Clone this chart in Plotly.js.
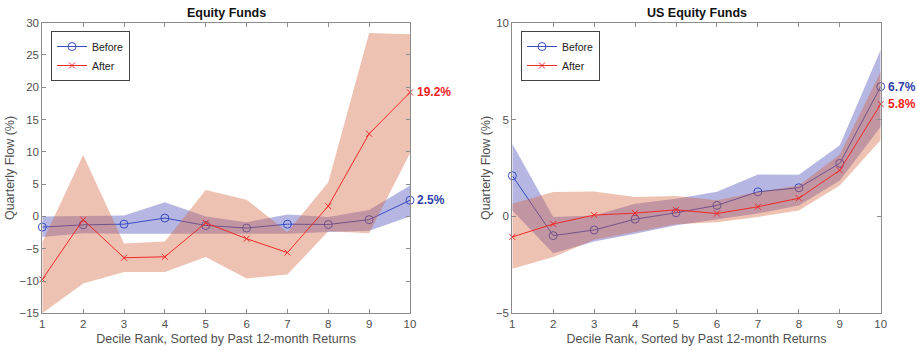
<!DOCTYPE html>
<html>
<head>
<meta charset="utf-8">
<script src="https://cdn.plot.ly/plotly-3.0.1.min.js"></script>
<style>html,body{margin:0;padding:0;background:#fff}#chart{width:918px;height:355px}</style>
</head>
<body>
<div id="chart"></div>
<script>
// ---- data ----
const deciles = [1, 2, 3, 4, 5, 6, 7, 8, 9, 10];

// Equity Funds
const eqBefore      = [-1.65, -1.3, -1.2, -0.25, -1.4, -1.8, -1.2, -1.25, -0.5, 2.5];
const eqBeforeUpper = [0, 0.1, 0.15, 2.2, 0, -0.9, 0.3, -0.1, 1.0, 4.8];
const eqBeforeLower = [-3.2, -2.6, -2.7, -2.7, -2.8, -2.7, -2.7, -2.4, -2.2, 0];
const eqAfter       = [-9.75, -0.5, -6.4, -6.25, -1.0, -3.45, -5.6, 1.6, 12.8, 19.2];
const eqAfterUpper  = [-4, 9.5, -4.2, -3.9, 4.1, 2.6, -2.4, 5.3, 28.4, 28.2];
const eqAfterLower  = [-15, -10.4, -8.6, -8.6, -6.3, -9.6, -9.0, -2.3, -2.6, 9.8];

// US Equity Funds
const usBefore      = [2.1, -0.99, -0.7, -0.14, 0.19, 0.57, 1.27, 1.48, 2.74, 6.7];
const usBeforeUpper = [3.75, -0.03, 0.05, 0.65, 0.91, 1.28, 2.17, 2.15, 3.67, 8.6];
const usBeforeLower = [0.3, -1.9, -1.3, -0.9, -0.45, -0.15, 0.15, 0.57, 1.86, 4.63];
const usAfter       = [-1.06, -0.39, 0.07, 0.17, 0.34, 0.15, 0.5, 0.94, 2.38, 5.8];
const usAfterUpper  = [0.65, 1.26, 1.29, 1.0, 1.05, 0.83, 1.26, 1.6, 3.2, 7.47];
const usAfterLower  = [-2.7, -2.1, -1.2, -0.8, -0.4, -0.3, -0.03, 0.31, 1.6, 3.94];

const seriesNames = ['Before', 'After'];
const panelTitles = ['Equity Funds', 'US Equity Funds'];
const xTitle = 'Decile Rank, Sorted by Past 12-month Returns';
const yTitle = 'Quarterly Flow (%)';

// ---- styles ----
const W = 918, H = 355;
const blueLine = '#3a4cc0', redLine = '#f02a2a';
const blueFill = 'rgba(40,40,170,0.34)', redFill = 'rgba(210,95,55,0.38)';
const blueText = '#2f3fa8', redText = '#ee1c1c';
const axisCol = '#8c8c8c', tickCol = '#505050';
const FONT = 'Arial, "Liberation Sans", sans-serif';

function band(lower, upper, fill, xa, ya) {
  return [
    {x: deciles, y: lower, xaxis: xa, yaxis: ya, mode: 'lines', line: {width: 0, color: 'rgba(0,0,0,0)'},
     showlegend: false, hoverinfo: 'skip'},
    {x: deciles, y: upper, xaxis: xa, yaxis: ya, mode: 'lines', line: {width: 0, color: 'rgba(0,0,0,0)'},
     fill: 'tonexty', fillcolor: fill, showlegend: false, hoverinfo: 'skip'}
  ];
}
function line(y, name, color, symbol, xa, ya, leg, msize) {
  return {x: deciles, y: y, xaxis: xa, yaxis: ya, name: name, legend: leg,
    mode: 'lines+markers', cliponaxis: false,
    line: {color: color, width: 1},
    marker: {symbol: symbol, size: msize, color: color, line: {color: color, width: 1}}};
}

const traces = [
  ...band(eqBeforeLower, eqBeforeUpper, blueFill, 'x', 'y'),
  line(eqBefore, seriesNames[0], blueLine, 'circle-open', 'x', 'y', 'legend', 8),
  ...band(eqAfterLower, eqAfterUpper, redFill, 'x', 'y'),
  line(eqAfter, seriesNames[1], redLine, 'x-thin-open', 'x', 'y', 'legend', 6),
  ...band(usBeforeLower, usBeforeUpper, blueFill, 'x2', 'y2'),
  line(usBefore, seriesNames[0], blueLine, 'circle-open', 'x2', 'y2', 'legend2', 8),
  ...band(usAfterLower, usAfterUpper, redFill, 'x2', 'y2'),
  line(usAfter, seriesNames[1], redLine, 'x-thin-open', 'x2', 'y2', 'legend2', 6)
];

function xax(l, r) {
  return {domain: [l / W, r / W], range: [1, 10], tickvals: deciles, ticks: 'inside', ticklen: 4,
    tickcolor: axisCol, showline: true, linecolor: axisCol, linewidth: 1, mirror: 'ticks',
    showgrid: false, zeroline: false, tickfont: {family: FONT, size: 11.5, color: tickCol},
    title: {text: xTitle, font: {family: FONT, size: 12.5, color: tickCol}, standoff: 5}};
}
function yax(range, dtick) {
  return {domain: [(H - 313.3) / H, (H - 22.7) / H], range: range, dtick: dtick, ticks: 'inside', ticklen: 4,
    tickcolor: axisCol, showline: true, linecolor: axisCol, linewidth: 1, mirror: 'ticks',
    showgrid: false, zeroline: false, tickfont: {family: FONT, size: 11.5, color: tickCol},
    title: {text: yTitle, font: {family: FONT, size: 12.5, color: tickCol}, standoff: 2}};
}

const legendCommon = {yanchor: 'top', xanchor: 'left', bgcolor: '#fff', bordercolor: '#444', borderwidth: 1,
  font: {family: FONT, size: 10.5, color: '#222'}, itemwidth: 30, tracegroupgap: 0, traceorder: 'normal'};

const annots = [
  {text: eqAfter[9].toFixed(1) + '%', x: 10, y: eqAfter[9], xref: 'x', yref: 'y', color: redText},
  {text: eqBefore[9].toFixed(1) + '%', x: 10, y: eqBefore[9], xref: 'x', yref: 'y', color: blueText},
  {text: usBefore[9].toFixed(1) + '%', x: 10, y: usBefore[9], xref: 'x2', yref: 'y2', color: blueText},
  {text: usAfter[9].toFixed(1) + '%', x: 10, y: usAfter[9], xref: 'x2', yref: 'y2', color: redText}
].map(a => ({text: '<b>' + a.text + '</b>', x: a.x, y: a.y, xref: a.xref, yref: a.yref,
  xanchor: 'left', yanchor: 'middle', xshift: 5, showarrow: false,
  font: {family: FONT, size: 12, color: a.color}}));

panelTitles.forEach((t, i) => {
  const l = i === 0 ? 42.3 : 512.3, r = i === 0 ? 410 : 880.7;
  annots.push({text: '<b>' + t + '</b>', x: (l + r) / 2 / W, y: (H - 13) / H, xref: 'paper', yref: 'paper',
    xanchor: 'center', yanchor: 'middle', showarrow: false, font: {family: FONT, size: 12.5, color: '#111'}});
});

const layout = {
  width: W, height: H, margin: {l: 0, r: 0, t: 0, b: 0},
  paper_bgcolor: '#fff', plot_bgcolor: '#fff', font: {family: FONT},
  xaxis: xax(42.3, 410), yaxis: yax([-15, 30], 5),
  xaxis2: Object.assign(xax(512.3, 880.7), {anchor: 'y2'}),
  yaxis2: Object.assign(yax([-5, 10], 5), {anchor: 'x2'}),
  legend: Object.assign({x: 51 / W, y: (H - 31) / H}, legendCommon),
  legend2: Object.assign({x: 521 / W, y: (H - 31) / H}, legendCommon),
  annotations: annots
};
layout.xaxis.anchor = 'y';
layout.yaxis.anchor = 'x';

Plotly.newPlot('chart', traces, layout, {staticPlot: true, displayModeBar: false});
</script>
</body>
</html>
